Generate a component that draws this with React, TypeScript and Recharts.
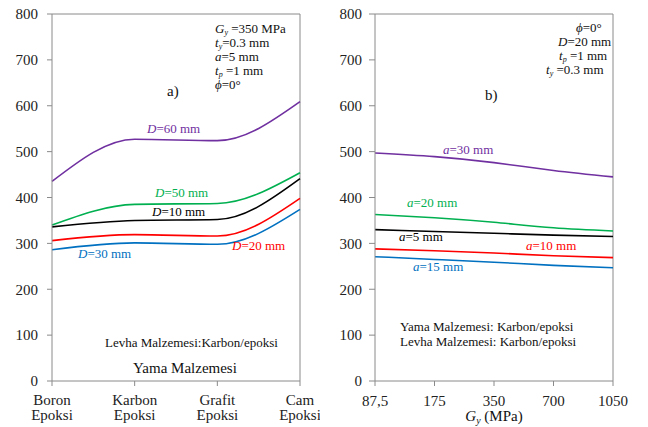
import { LineChart, Line, XAxis, YAxis, ReferenceLine } from 'recharts';

// sol panel: yama malzemesi
const materials = ['Boron Epoksi', 'Karbon Epoksi', 'Grafit Epoksi', 'Cam Epoksi'];
const d10 = [336, 350, 352, 441];
const d20 = [306, 319, 316, 398];
const d30 = [286, 301, 298, 374];
const d50 = [340, 385, 387, 454];
const d60 = [435, 527, 524, 609];

// sag panel: Gy
const gyLabels = ['87,5', '175', '350', '700', '1050'];
const a5 = [330, 326, 322, 318, 315];
const a10 = [288, 284, 279, 273, 269];
const a15 = [271, 265, 259, 252, 247];
const a20 = [363, 356, 346, 334, 327];
const a30 = [497, 489, 476, 459, 445];

const yTicks = [0, 100, 200, 300, 400, 500, 600, 700, 800];

const leftData = materials.map((m, i) => ({
    name: m,
    d10: d10[i],
    d20: d20[i],
    d30: d30[i],
    d50: d50[i],
    d60: d60[i],
}));

const rightData = gyLabels.map((g, i) => ({
    name: g,
    a5: a5[i],
    a10: a10[i],
    a15: a15[i],
    a20: a20[i],
    a30: a30[i],
}));

const FONT = '"Liberation Serif", "Times New Roman", serif';
const AXIS = '#8a8a8a';
const PURPLE = '#7030a0';
const GREEN = '#00b050';
const BLACK = '#000000';
const RED = '#ff0000';
const BLUE = '#0070c0';

const tickStyle = { fontFamily: FONT, fontSize: 15, fill: '#222' };

function MaterialTick({ x, y, payload }: any) {
    const [a, b] = String(payload.value).split(' ');
    return (
        <text x={x} y={y} textAnchor="middle" fontFamily={FONT} fontSize={15} fill="#222">
            <tspan x={x} dy={17}>{a}</tspan>
            <tspan x={x} dy={15}>{b}</tspan>
        </text>
    );
}

function Lbl({ x, y, color, sym, rest }: { x: number; y: number; color: string; sym: string; rest: string }) {
    return (
        <text x={x} y={y} fill={color} fontFamily={FONT} fontSize={13}>
            <tspan fontStyle="italic">{sym}</tspan>
            {rest}
        </text>
    );
}

function Sub({ x, y, sym, sub, rest }: { x: number; y: number; sym: string; sub: string; rest: string }) {
    return (
        <text x={x} y={y} fill="#111" fontFamily={FONT} fontSize={13}>
            <tspan fontStyle="italic">{sym}</tspan>
            <tspan fontStyle="italic" fontSize={8} dy={1.5}>{sub}</tspan>
            <tspan dy={-1.5}>{rest}</tspan>
        </text>
    );
}

export default function App() {
    const leftLine = { type: 'monotone' as const, dot: false, strokeWidth: 1.6, isAnimationActive: false };
    const rightLine = { type: 'natural' as const, dot: false, strokeWidth: 1.6, isAnimationActive: false };
    return (
        <div style={{ position: 'relative', width: 648, height: 427, margin: '-8px 0 0 -8px', background: '#fff' }}>
            <div style={{ position: 'absolute', left: 0, top: 0 }}>
                <LineChart width={320} height={427} data={leftData} margin={{ top: 14, right: 20, bottom: 6, left: 12 }}>
                    <XAxis
                        dataKey="name"
                        height={40}
                        tick={<MaterialTick />}
                        tickSize={5}
                        axisLine={{ stroke: AXIS }}
                        tickLine={{ stroke: AXIS }}
                        interval={0}
                    />
                    <YAxis
                        width={40}
                        domain={[0, 800]}
                        ticks={yTicks}
                        tick={tickStyle}
                        tickSize={5}
                        tickMargin={9}
                        axisLine={{ stroke: AXIS }}
                        tickLine={{ stroke: AXIS }}
                    />
                    <ReferenceLine y={800} stroke={AXIS} />
                    <ReferenceLine x="Cam Epoksi" stroke={AXIS} />
                    <Line dataKey="d60" stroke={PURPLE} {...leftLine} />
                    <Line dataKey="d50" stroke={GREEN} {...leftLine} />
                    <Line dataKey="d10" stroke={BLACK} {...leftLine} />
                    <Line dataKey="d20" stroke={RED} {...leftLine} />
                    <Line dataKey="d30" stroke={BLUE} {...leftLine} />
                </LineChart>
            </div>
            <div style={{ position: 'absolute', left: 320, top: 0 }}>
                <LineChart width={328} height={427} data={rightData} margin={{ top: 14, right: 35, bottom: 6, left: 10 }}>
                    <XAxis
                        dataKey="name"
                        height={40}
                        tick={tickStyle}
                        tickSize={5}
                        tickMargin={9}
                        axisLine={{ stroke: AXIS }}
                        tickLine={{ stroke: AXIS }}
                        interval={0}
                    />
                    <YAxis
                        width={45}
                        domain={[0, 800]}
                        ticks={yTicks}
                        tick={tickStyle}
                        tickSize={6}
                        tickMargin={7}
                        axisLine={{ stroke: AXIS }}
                        tickLine={{ stroke: AXIS }}
                    />
                    <ReferenceLine y={800} stroke={AXIS} />
                    <ReferenceLine x="1050" stroke={AXIS} />
                    <Line dataKey="a30" stroke={PURPLE} {...rightLine} />
                    <Line dataKey="a20" stroke={GREEN} {...rightLine} />
                    <Line dataKey="a5" stroke={BLACK} {...rightLine} />
                    <Line dataKey="a10" stroke={RED} {...rightLine} />
                    <Line dataKey="a15" stroke={BLUE} {...rightLine} />
                </LineChart>
            </div>
            <svg width={648} height={427} style={{ position: 'absolute', left: 0, top: 0, pointerEvents: 'none' }}>
                {/* sol panel notlari */}
                <Sub x={215} y={33} sym="G" sub="y" rest=" =350 MPa" />
                <Sub x={215} y={47} sym="t" sub="y" rest="=0.3 mm" />
                <Lbl x={215} y={61} color="#111" sym="a" rest="=5 mm" />
                <Sub x={215} y={75} sym="t" sub="p" rest=" =1 mm" />
                <Lbl x={215} y={89} color="#111" sym="ϕ" rest="=0°" />
                <text x={167} y={96} fontFamily={FONT} fontSize={15} fill="#111">a)</text>

                <Lbl x={147} y={133} color={PURPLE} sym="D" rest="=60 mm" />
                <Lbl x={155} y={197} color={GREEN} sym="D" rest="=50 mm" />
                <Lbl x={152} y={216} color={BLACK} sym="D" rest="=10 mm" />
                <Lbl x={232} y={250} color={RED} sym="D" rest="=20 mm" />
                <Lbl x={78} y={258} color={BLUE} sym="D" rest="=30 mm" />

                <text x={105} y={347} fontFamily={FONT} fontSize={13} fill="#111">Levha Malzemesi:Karbon/epoksi</text>
                <text x={133} y={373} fontFamily={FONT} fontSize={15} fill="#111">Yama Malzemesi</text>

                {/* sag panel notlari */}
                <Lbl x={576} y={32} color="#111" sym="ϕ" rest="=0°" />
                <Lbl x={558} y={46} color="#111" sym="D" rest="=20 mm" />
                <Sub x={559} y={60} sym="t" sub="p" rest=" =1 mm" />
                <Sub x={546} y={74} sym="t" sub="y" rest=" =0.3 mm" />
                <text x={485} y={100} fontFamily={FONT} fontSize={15} fill="#111">b)</text>

                <Lbl x={443} y={154} color={PURPLE} sym="a" rest="=30 mm" />
                <Lbl x={407} y={207} color={GREEN} sym="a" rest="=20 mm" />
                <Lbl x={399} y={241} color={BLACK} sym="a" rest="=5 mm" />
                <Lbl x={526} y={250} color={RED} sym="a" rest="=10 mm" />
                <Lbl x={413} y={271} color={BLUE} sym="a" rest="=15 mm" />

                <text x={400} y={331} fontFamily={FONT} fontSize={13} fill="#111">Yama Malzemesi: Karbon/epoksi</text>
                <text x={400} y={346} fontFamily={FONT} fontSize={13} fill="#111">Levha Malzemesi: Karbon/epoksi</text>

                <text x={494} y={421} textAnchor="middle" fontFamily={FONT} fontSize={15} fill="#111">
                    <tspan fontStyle="italic">G</tspan>
                    <tspan fontStyle="italic" fontSize={10} dy={3}>y</tspan>
                    <tspan dy={-3}>{' (MPa)'}</tspan>
                </text>
            </svg>
        </div>
    );
}
